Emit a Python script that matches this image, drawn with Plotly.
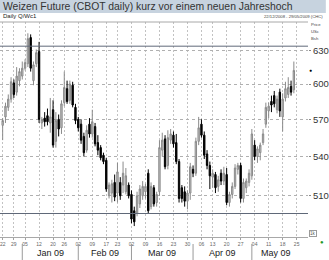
import math
import plotly.graph_objects as go

# ---------------- data ----------------
dates = [
    "2008-12-22", "2008-12-23", "2008-12-24", "2008-12-26", "2008-12-29", "2008-12-30", "2008-12-31",
    "2009-01-02", "2009-01-05", "2009-01-06", "2009-01-07", "2009-01-08", "2009-01-09",
    "2009-01-12", "2009-01-13", "2009-01-14", "2009-01-15", "2009-01-16",
    "2009-01-20", "2009-01-21", "2009-01-22", "2009-01-23",
    "2009-01-26", "2009-01-27", "2009-01-28", "2009-01-29", "2009-01-30",
    "2009-02-02", "2009-02-03", "2009-02-04", "2009-02-05", "2009-02-06",
    "2009-02-09", "2009-02-10", "2009-02-11", "2009-02-12", "2009-02-13",
    "2009-02-17", "2009-02-18", "2009-02-19", "2009-02-20",
    "2009-02-23", "2009-02-24", "2009-02-25", "2009-02-26", "2009-02-27",
    "2009-03-02", "2009-03-03", "2009-03-04", "2009-03-05", "2009-03-06",
    "2009-03-09", "2009-03-10", "2009-03-11", "2009-03-12", "2009-03-13",
    "2009-03-16", "2009-03-17", "2009-03-18", "2009-03-19", "2009-03-20",
    "2009-03-23", "2009-03-24", "2009-03-25", "2009-03-26", "2009-03-27",
    "2009-03-30", "2009-03-31", "2009-04-01", "2009-04-02", "2009-04-03",
    "2009-04-06", "2009-04-07", "2009-04-08", "2009-04-09",
    "2009-04-13", "2009-04-14", "2009-04-15", "2009-04-16", "2009-04-17",
    "2009-04-20", "2009-04-21", "2009-04-22", "2009-04-23", "2009-04-24",
    "2009-04-27", "2009-04-28", "2009-04-29", "2009-04-30", "2009-05-01",
    "2009-05-04", "2009-05-05", "2009-05-06", "2009-05-07", "2009-05-08",
    "2009-05-11", "2009-05-12", "2009-05-13", "2009-05-14", "2009-05-15",
    "2009-05-18", "2009-05-19", "2009-05-20", "2009-05-21", "2009-05-22",
]
future_dates = ["2009-05-25", "2009-05-26", "2009-05-27", "2009-05-28", "2009-05-29"]

opens = [565, 572, 580, 587, 601, 593, 603,
         607, 614, 618, 642, 603, 618,
         629, 567, 571, 573, 567,
         578, 552, 570, 563,
         584, 596, 586, 599, 580,
         570, 566, 556, 545, 566,
         558, 564, 551, 547, 541,
         537, 510, 512, 520,
         512, 520, 518, 513, 518,
         511, 499, 497, 504, 510,
         513, 527, 502, 516, 505,
         513, 545, 554, 533, 553,
         557, 551, 536, 516, 513,
         506, 512, 530, 527, 552,
         566, 557, 542, 533,
         524, 526, 517, 527, 521,
         526, 505, 511, 517, 530,
         533, 508, 516, 520, 525,
         549, 540, 543, 551, 566,
         577, 585, 590, 578, 593,
         572, 588, 591, 598, 595]
highs = [571, 584, 591, 606, 604, 615, 614,
         620, 622, 646, 645, 620, 631,
         638, 572, 576, 579, 588,
         586, 576, 574, 586,
         611, 603, 603, 602, 583,
         572, 570, 559, 565, 571,
         578, 567, 557, 549, 543,
         539, 520, 522, 526,
         535, 524, 536, 531, 520,
         514, 502, 513, 518, 521,
         519, 530, 520, 518, 513,
         553, 559, 557, 561, 562,
         560, 558, 538, 518, 517,
         514, 535, 533, 555, 572,
         570, 560, 545, 536,
         530, 528, 525, 530, 532,
         531, 513, 520, 534, 535,
         535, 523, 523, 530, 562,
         553, 548, 551, 562, 584,
         584, 590, 594, 590, 596,
         592, 602, 606, 603, 620]
lows = [553, 567, 577, 584, 588, 590, 598,
        604, 612, 615, 611, 599, 615,
        567, 562, 564, 565, 559,
        547, 547, 556, 558,
        581, 583, 583, 580, 566,
        560, 550, 540, 543, 555,
        555, 548, 541, 537, 534,
        513, 508, 505, 506,
        505, 507, 512, 511, 508,
        490, 488, 495, 501, 507,
        508, 497, 500, 502, 502,
        510, 540, 530, 530, 550,
        547, 534, 505, 505, 502,
        500, 507, 524, 525, 549,
        555, 538, 530, 515,
        516, 512, 513, 518, 518,
        503, 502, 508, 515, 526,
        505, 505, 512, 517, 522,
        537, 535, 537, 549, 563,
        571, 576, 580, 575, 572,
        560, 585, 588, 590, 592]
closes = [569, 581, 587, 602, 591, 607, 611,
          614, 619, 641, 614, 617, 628,
          570, 570, 568, 568, 572,
          549, 569, 562, 583,
          597, 585, 600, 582, 569,
          563, 553, 543, 561, 558,
          568, 550, 545, 539, 536,
          515, 518, 519, 509,
          528, 510, 527, 525, 510,
          493, 491, 510, 515, 517,
          517, 499, 517, 504, 511,
          547, 553, 532, 555, 558,
          550, 536, 508, 508, 506,
          512, 532, 527, 552, 563,
          557, 541, 533, 525,
          527, 516, 522, 521, 527,
          505, 511, 517, 531, 533,
          508, 520, 521, 527, 558,
          540, 546, 549, 558, 580,
          581, 582, 583, 587, 577,
          587, 596, 597, 593, 612]

tick_dates = ["2008-12-22", "2008-12-29", "2009-01-05", "2009-01-12", "2009-01-20", "2009-01-26",
              "2009-02-02", "2009-02-09", "2009-02-17", "2009-02-23", "2009-03-02", "2009-03-09",
              "2009-03-16", "2009-03-23", "2009-03-30", "2009-04-06", "2009-04-13", "2009-04-20",
              "2009-04-27", "2009-05-04", "2009-05-11", "2009-05-18", "2009-05-25"]
month_labels = ["Jan 09", "Feb 09", "Mar 09", "Apr 09", "May 09"]
month_starts = ["2009-01-02", "2009-02-02", "2009-03-02", "2009-04-01", "2009-05-01"]
y_ticks = [510, 540, 570, 600, 630]
upper_level = 634
lower_level = 497

title_text = "Weizen Future (CBOT daily) kurz vor einem neuen Jahreshoch"
ric_text = "Daily Q/Wc1"
range_text = "22/12/2008 - 29/05/2009 (CHC)"
unit_lines = ["Price", "USc", "Bsh"]

# ---------------- figure ----------------
W, H = 329, 260
ML, MR, MT, MB = 0, 18, 22, 23
PW, PH = W - ML - MR, H - MT - MB

axis_dates = dates + future_dates
pos = {d: i for i, d in enumerate(axis_dates)}
xs = [pos[d] for d in dates]

SANS = "Liberation Sans, Arial, sans-serif"


def py(pix):  # pixel row -> paper y
    return (H - MB - pix) / PH


def px(pix):  # pixel col -> paper x
    return (pix - ML) / PW


fig = go.Figure()

for lvl in (upper_level, lower_level):
    fig.add_trace(go.Scatter(x=[-5, len(axis_dates) + 5], y=[lvl, lvl], mode="lines",
                             line=dict(color="#5f6878", width=1), hoverinfo="skip",
                             showlegend=False))

fig.add_trace(go.Candlestick(
    x=xs, open=opens, high=highs, low=lows, close=closes,
    increasing=dict(line=dict(color="#8a8a8a", width=1), fillcolor="#c6c6c6"),
    decreasing=dict(line=dict(color="#000000", width=1), fillcolor="#000000"),
    whiskerwidth=0, showlegend=False,
))

shapes = [
    dict(type="rect", xref="paper", yref="paper", x0=px(0), x1=px(W), y0=py(0), y1=py(13),
         fillcolor="#c7d3df", line=dict(width=0), layer="below"),
    dict(type="line", xref="paper", yref="paper", x0=0, x1=1, y0=1, y1=1,
         line=dict(color="#a8a8a8", width=1)),
]
for d in month_starts:
    shapes.append(dict(type="line", xref="x", yref="paper", x0=pos[d], x1=pos[d],
                       y0=py(244), y1=py(260), line=dict(color="#9a9a9a", width=1)))

annotations = [
    dict(text=title_text, xref="paper", yref="paper", x=px(1.5), y=py(6.8),
         xanchor="left", yanchor="middle", showarrow=False,
         font=dict(family=SANS, size=10.4, color="#333333")),
    dict(text=ric_text, xref="paper", yref="paper", x=px(1.5), y=py(16.5),
         xanchor="left", yanchor="middle", showarrow=False,
         font=dict(family=SANS, size=6, color="#222222")),
    dict(text=range_text, xref="paper", yref="paper", x=px(328), y=py(16.5),
         xanchor="right", yanchor="middle", showarrow=False,
         font=dict(family=SANS, size=4.2, color="#444444")),
]
for k, t in enumerate(unit_lines):
    annotations.append(dict(text=t, xref="paper", yref="paper", x=px(312.5), y=py(25 + 6.5 * k),
                            xanchor="left", yanchor="middle", showarrow=False,
                            font=dict(family=SANS, size=4.2, color="#444444")))

month_bounds = [pos[d] for d in month_starts] + [len(dates) + 1]
for k, lab in enumerate(month_labels):
    lo, hi = month_bounds[k], month_bounds[k + 1]
    annotations.append(dict(text=lab, xref="x", yref="paper", x=(lo + hi) / 2, y=py(252.5),
                            xanchor="center", yanchor="middle", showarrow=False,
                            font=dict(family=SANS, size=9, color="#1a1a1a")))

annotations.append(dict(text="●", xref="paper", yref="y", x=px(313.5), y=math.log10(closes[-1]),
                        xanchor="center", yanchor="middle", showarrow=False,
                        font=dict(size=5, color="#000000")))
annotations.append(dict(text="1k", xref="paper", yref="paper", x=px(316.5), y=py(233.5),
                        xanchor="center", yanchor="middle", showarrow=False,
                        bordercolor="#9a9a9a", borderwidth=1, borderpad=0,
                        font=dict(family=SANS, size=4.5, color="#555555")))
annotations.append(dict(text="●", xref="paper", yref="paper", x=px(325), y=py(241.5),
                        xanchor="center", yanchor="middle", showarrow=False,
                        font=dict(size=6, color="#1f9a2a")))

x_left = -2.7 / 2.827
x_right = x_left + PW / 2.827

fig.update_layout(
    width=W, height=H,
    margin=dict(l=ML, r=MR, t=MT, b=MB, pad=0),
    paper_bgcolor="white", plot_bgcolor="white",
    showlegend=False,
    shapes=shapes, annotations=annotations,
    xaxis=dict(
        range=[x_left, x_right], rangeslider=dict(visible=False),
        tickmode="array", tickvals=[pos[d] for d in tick_dates],
        ticktext=[d[-2:] for d in tick_dates],
        tickfont=dict(family=SANS, size=5, color="#666666"),
        ticks="outside", ticklen=2, tickcolor="#a0a0a0",
        ticklabeloverflow="allow",
        showgrid=True, gridcolor="#c2c2c2", griddash="2px,2px", gridwidth=1,
        showline=True, linecolor="#a8a8a8", linewidth=1,
        zeroline=False, fixedrange=True,
    ),
    yaxis=dict(
        type="log", side="right",
        range=[math.log10(480.3), math.log10(656.7)],
        tickmode="array", tickvals=y_ticks, ticktext=[str(v) for v in y_ticks],
        tickfont=dict(family=SANS, size=9.5, color="#333333"),
        ticks="outside", ticklen=2, tickcolor="#888888",
        showgrid=True, gridcolor="#b0b0b0", griddash="dot", gridwidth=1,
        showline=False, zeroline=False, fixedrange=True,
    ),
)

fig.write_html("out.html")
